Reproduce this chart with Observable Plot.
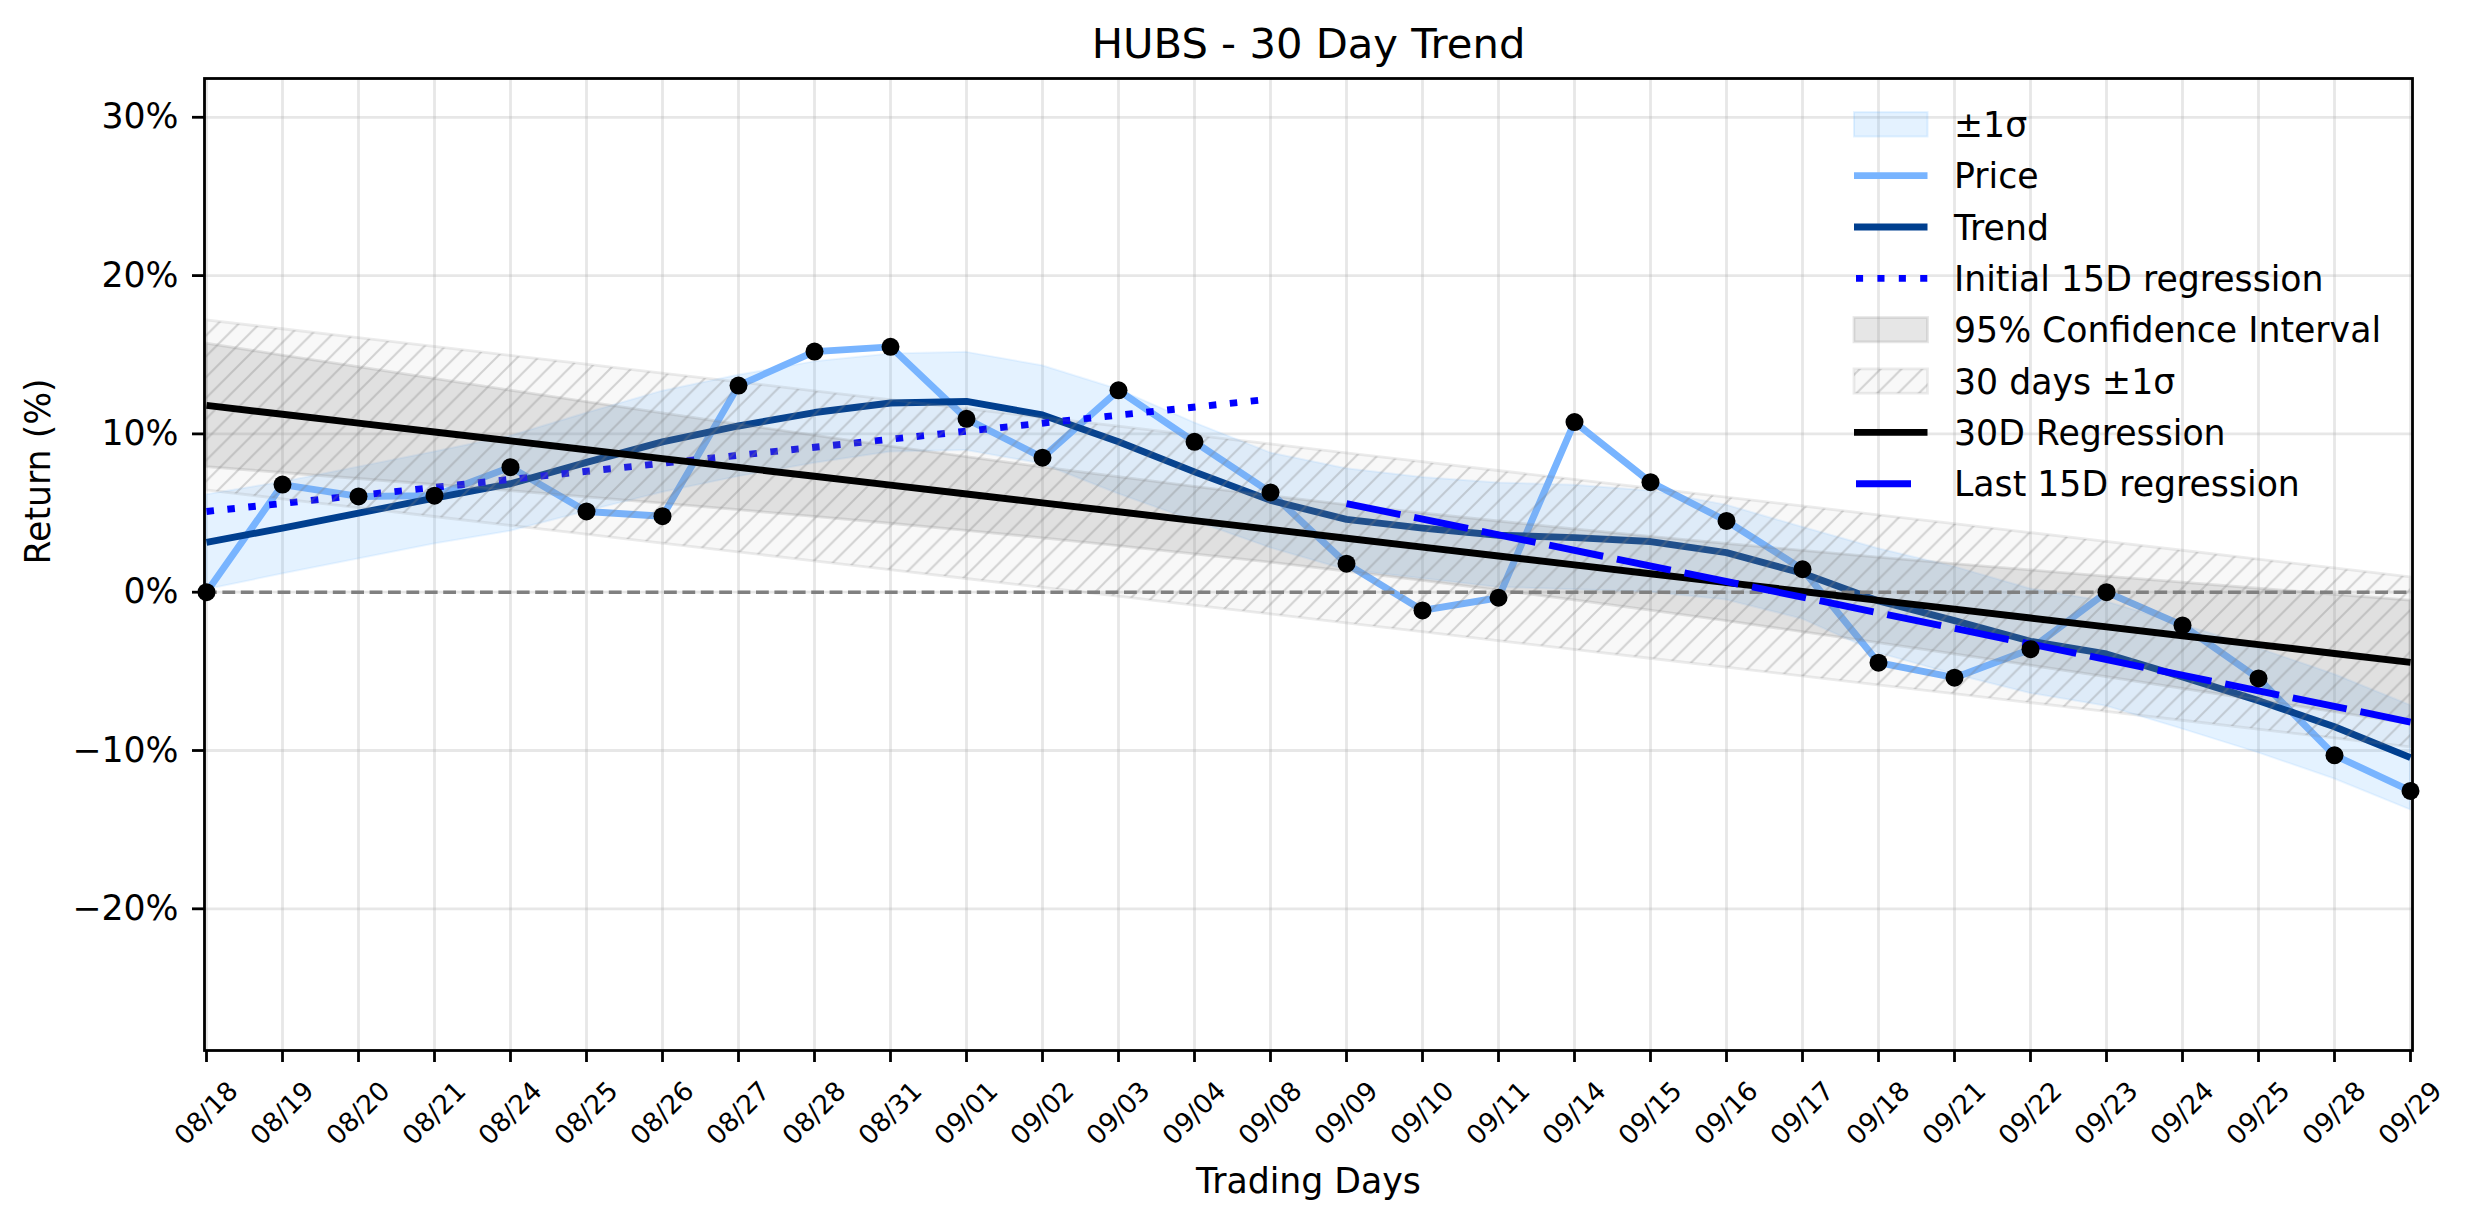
<!DOCTYPE html>
<html>
<head>
<meta charset="utf-8">
<script src="https://cdn.jsdelivr.net/npm/d3@7"></script>
<script src="https://cdn.jsdelivr.net/npm/@observablehq/plot@0.6"></script>
<style>
  html, body { margin: 0; padding: 0; background: #fff; }
  svg { display: block; }
</style>
</head>
<body>
<div id="chart"></div>
<script>
// ---------------- data ----------------
const chartTitle = "HUBS - 30 Day Trend";
const xLabel = "Trading Days";
const yLabel = "Return (%)";

const dates = ["08/18","08/19","08/20","08/21","08/24","08/25","08/26","08/27","08/28","08/31",
               "09/01","09/02","09/03","09/04","09/08","09/09","09/10","09/11","09/14","09/15",
               "09/16","09/17","09/18","09/21","09/22","09/23","09/24","09/25","09/28","09/29"];

const price = [0.0, 6.8, 6.05, 6.1, 7.9, 5.1, 4.8, 13.05, 15.2, 15.5,
               10.95, 8.5, 12.75, 9.5, 6.3, 1.8, -1.15, -0.35, 10.75, 6.95,
               4.5, 1.45, -4.45, -5.4, -3.6, 0.0, -2.1, -5.45, -10.3, -12.55];

const trend = [3.15, 4.05, 5.0, 5.95, 6.85, 8.2, 9.5, 10.5, 11.35, 11.95,
               12.05, 11.2, 9.5, 7.6, 5.8, 4.6, 4.05, 3.6, 3.45, 3.2,
               2.5, 1.2, -0.55, -1.8, -3.1, -3.9, -5.35, -6.85, -8.5, -10.45];

// half width of the light-blue ±1σ band around the trend
const sigma = [3.0, 2.9, 2.9, 2.9, 3.0, 3.1, 3.2, 3.2, 3.2, 3.1,
               3.1, 3.1, 3.3, 3.1, 3.0, 3.2, 3.2, 3.3, 3.3, 3.2,
               3.0, 2.9, 3.3, 3.4, 3.3, 3.3, 3.3, 3.3, 3.3, 3.3];

// 30D regression end values (first and last day)
const reg30 = [11.8, -4.43];
// half width of the 95% confidence interval around the 30D regression
const ciHalf = [3.90, 3.71, 3.53, 3.35, 3.17, 3.01, 2.85, 2.70, 2.57, 2.44,
                2.33, 2.24, 2.18, 2.13, 2.10, 2.10, 2.13, 2.18, 2.24, 2.33,
                2.44, 2.57, 2.70, 2.85, 3.01, 3.17, 3.35, 3.53, 3.71, 3.90];
// 30 days ±1σ half width
const sigma30 = 5.37;

// initial 15D regression (day 0 -> day 14) and last 15D regression (day 15 -> day 29)
const initReg = [5.1, 12.2];
const lastReg = [5.6, -8.2];

const yTicks = [-20, -10, 0, 10, 20, 30];
const yDomain = [-28.95, 32.45];

const legendLabels = ["±1σ", "Price", "Trend", "Initial 15D regression",
                      "95% Confidence Interval", "30 days ±1σ", "30D Regression", "Last 15D regression"];

// ---------------- derived tables ----------------
const n = dates.length;
const rows = dates.map((d, i) => {
  const reg = reg30[0] + (reg30[1] - reg30[0]) * i / (n - 1);
  return {
    date: d, price: price[i], trend: trend[i],
    lo: trend[i] - sigma[i], hi: trend[i] + sigma[i],
    reg, ciLo: reg - ciHalf[i], ciHi: reg + ciHalf[i],
    sLo: reg - sigma30, sHi: reg + sigma30
  };
});
const initRows = [{date: dates[0], v: initReg[0]}, {date: dates[14], v: initReg[1]}];
const lastRows = [{date: dates[15], v: lastReg[0]}, {date: dates[29], v: lastReg[1]}];

// ---------------- styles ----------------
const FONT = "DejaVu Sans";
const LW = 6.9;
const C_BAND = "#4da6ff";
const C_PRICE = "#78b4ff";
const C_TREND = "#003f8f";
const C_BLUE = "#0000ff";
const C_GRAY = "#808080";

const hatchDefs = () => {
  const defs = d3.create("svg:defs");
  const p = defs.append("pattern").attr("id", "hatch")
    .attr("patternUnits", "userSpaceOnUse").attr("width", 20.83).attr("height", 20.83);
  p.append("path")
    .attr("d", "M0,20.83 L20.83,0 M-5,5 L5,-5 M15.83,25.83 L25.83,15.83")
    .attr("stroke", "rgb(128,128,128)").attr("stroke-opacity", 0.32)
    .attr("stroke-width", 2).attr("fill", "none");
  return defs.node();
};

const legend = () => {
  const g = d3.create("svg:g").attr("font-family", FONT).attr("font-size", 34.7)
    .attr("text-anchor", "start");
  const x0 = 1854, x1 = 1927.5, tx = 1954, y0 = 124.3, step = 51.35;
  legendLabels.forEach((label, k) => {
    const y = y0 + k * step;
    if (k === 0) {
      g.append("rect").attr("x", x0).attr("y", y - 12.15).attr("width", x1 - x0).attr("height", 24.3)
        .attr("fill", C_BAND).attr("fill-opacity", 0.15)
        .attr("stroke", C_BAND).attr("stroke-opacity", 0.15).attr("stroke-width", 2);
    } else if (k === 4) {
      g.append("rect").attr("x", x0).attr("y", y - 12.15).attr("width", x1 - x0).attr("height", 24.3)
        .attr("fill", C_GRAY).attr("fill-opacity", 0.2)
        .attr("stroke", C_GRAY).attr("stroke-opacity", 0.2).attr("stroke-width", 2.8);
    } else if (k === 5) {
      g.append("rect").attr("x", x0).attr("y", y - 12.15).attr("width", x1 - x0).attr("height", 24.3)
        .attr("fill", C_GRAY).attr("fill-opacity", 0.06)
        .attr("stroke", C_GRAY).attr("stroke-opacity", 0.15).attr("stroke-width", 2.8);
      g.append("rect").attr("x", x0).attr("y", y - 12.15).attr("width", x1 - x0).attr("height", 24.3)
        .attr("fill", "url(#hatch)");
    } else {
      const line = g.append("line").attr("y1", y).attr("y2", y).attr("stroke-width", LW).attr("fill", "none");
      if (k === 1) line.attr("x1", x0).attr("x2", x1).attr("stroke", C_PRICE);
      if (k === 2) line.attr("x1", x0).attr("x2", x1).attr("stroke", C_TREND);
      if (k === 3) line.attr("x1", 1856).attr("x2", x1).attr("stroke", C_BLUE)
                       .attr("stroke-dasharray", "7.1,14.3");
      if (k === 6) line.attr("x1", x0).attr("x2", x1).attr("stroke", "black");
      if (k === 7) line.attr("x1", 1856).attr("x2", 1911).attr("stroke", C_BLUE);
    }
    g.append("text").attr("x", tx).attr("y", y + 12.5).attr("fill", "black")
      .attr("text-anchor", "start").text(label);
  });
  return g.node();
};

const chart = Plot.plot({
  width: 2474,
  height: 1224,
  marginLeft: 204,
  marginRight: 62,
  marginTop: 78,
  marginBottom: 174,
  style: { fontFamily: FONT, fontSize: "34.7px", color: "black", background: "white", overflow: "visible" },
  x: { type: "point", domain: dates, padding: 0 },
  y: { domain: yDomain },
  marks: [
    hatchDefs,
    // grid
    Plot.ruleX(dates, { x: d => d, stroke: "#b0b0b0", strokeOpacity: 0.3, strokeWidth: 2.8 }),
    Plot.ruleY(yTicks, { y: d => d, stroke: "#b0b0b0", strokeOpacity: 0.3, strokeWidth: 2.8 }),
    // ±1σ band around the trend
    Plot.areaY(rows, { x: "date", y1: "lo", y2: "hi", fill: C_BAND, fillOpacity: 0.15,
                       stroke: C_BAND, strokeOpacity: 0.1, strokeWidth: 2 }),
    // price
    Plot.line(rows, { x: "date", y: "price", stroke: C_PRICE, strokeWidth: LW, strokeLinecap: "butt" }),
    // trend
    Plot.line(rows, { x: "date", y: "trend", stroke: C_TREND, strokeWidth: LW, strokeLinecap: "butt" }),
    // initial 15D regression
    Plot.line(initRows, { x: "date", y: "v", stroke: C_BLUE, strokeWidth: LW,
                          strokeDasharray: "7.5,13.5", strokeLinecap: "butt" }),
    // 95% confidence interval
    Plot.areaY(rows, { x: "date", y1: "ciLo", y2: "ciHi", fill: C_GRAY, fillOpacity: 0.2,
                       stroke: C_GRAY, strokeOpacity: 0.2, strokeWidth: 2.8 }),
    // 30 days ±1σ (hatched)
    Plot.areaY(rows, { x: "date", y1: "sLo", y2: "sHi", fill: C_GRAY, fillOpacity: 0.06,
                       stroke: C_GRAY, strokeOpacity: 0.15, strokeWidth: 2.8 }),
    Plot.areaY(rows, { x: "date", y1: "sLo", y2: "sHi", fill: "url(#hatch)" }),
    // zero line
    Plot.ruleY([0], { stroke: C_GRAY, strokeWidth: 3.5, strokeDasharray: "12.8,5.6" }),
    // 30D regression
    Plot.line(rows, { x: "date", y: "reg", stroke: "black", strokeWidth: LW, strokeLinecap: "butt" }),
    // last 15D regression
    Plot.line(lastRows, { x: "date", y: "v", stroke: C_BLUE, strokeWidth: LW,
                          strokeDasharray: "55,14", strokeLinecap: "butt" }),
    // frame
    Plot.frame({ stroke: "black", strokeWidth: 2.8 }),
    // axes
    Plot.axisY(yTicks, { tickSize: 12, tickPadding: 14, strokeWidth: 2.8, fontSize: 34.7, label: null,
                         tickFormat: d => (d < 0 ? "\u2212" : "") + Math.abs(d) + "%" }),
    Plot.axisX(dates, { tickSize: 12, strokeWidth: 2.8, label: null, tickFormat: () => "" }),
    Plot.text(dates, { x: d => d, frameAnchor: "bottom", dy: 63, rotate: -45, fontSize: 26.5,
                       textAnchor: "middle", lineAnchor: "middle", fill: "black" }),
    // price points
    Plot.dot(rows, { x: "date", y: "price", r: 9, fill: "black" }),
    // titles
    Plot.text([chartTitle], { frameAnchor: "top", dy: -34.3, fontSize: 41.7, fill: "black", lineAnchor: "middle" }),
    Plot.text([xLabel], { frameAnchor: "bottom", dy: 131, fontSize: 34.7, fill: "black", lineAnchor: "middle" }),
    Plot.text([yLabel], { frameAnchor: "left", dx: -165.5, rotate: -90, fontSize: 34.7, fill: "black", lineAnchor: "middle" }),
    legend
  ]
});
document.getElementById("chart").appendChild(chart);
</script>
</body>
</html>
